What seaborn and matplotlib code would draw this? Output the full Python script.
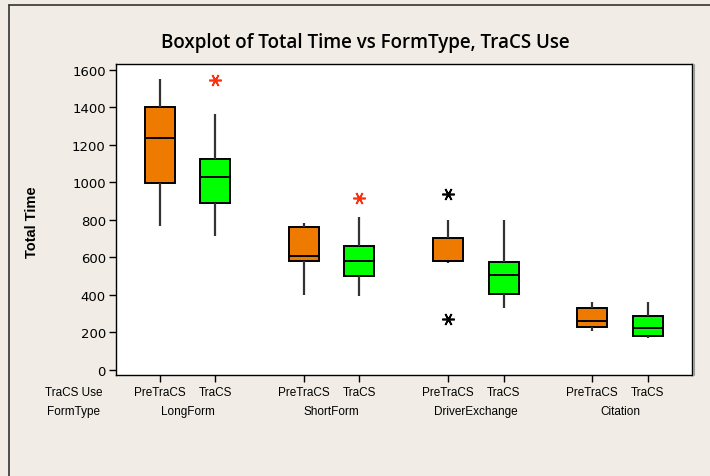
import pandas as pd
import seaborn as sns
import matplotlib.pyplot as plt
from matplotlib.lines import Line2D
from matplotlib.transforms import blended_transform_factory

forms = ["LongForm", "ShortForm", "DriverExchange", "Citation"]
uses = ["PreTraCS", "TraCS"]

long_pre = [768, 900, 998, 1100, 1236, 1320, 1399, 1480, 1548]
long_tracs = [714, 800, 892, 960, 1027, 1080, 1122, 1362, 1544]
short_pre = [399, 560, 578, 590, 605, 700, 762, 775, 785]
short_tracs = [395, 450, 498, 540, 578, 620, 663, 815, 918]
driver_pre = [271, 569, 578, 579, 580, 650, 704, 798, 939]
driver_tracs = [328, 380, 406, 460, 505, 540, 573, 690, 798]
cit_pre = [206, 215, 227, 245, 262, 300, 328, 345, 363]
cit_tracs = [168, 175, 182, 200, 222, 260, 289, 330, 363]

groups = {
    ("LongForm", "PreTraCS"): long_pre,
    ("LongForm", "TraCS"): long_tracs,
    ("ShortForm", "PreTraCS"): short_pre,
    ("ShortForm", "TraCS"): short_tracs,
    ("DriverExchange", "PreTraCS"): driver_pre,
    ("DriverExchange", "TraCS"): driver_tracs,
    ("Citation", "PreTraCS"): cit_pre,
    ("Citation", "TraCS"): cit_tracs,
}

rows = []
for (f, u), vals in groups.items():
    for v in vals:
        rows.append({"FormType": f, "TraCS Use": u, "Total Time": v})
data = pd.DataFrame(rows)

bg = "#F1EDE6"
orange = "#EE7B00"
green = "#00FF00"

sns.set_style("white")
plt.rcParams["font.family"] = ["DejaVu Sans"]
plt.rcParams["text.color"] = "black"
plt.rcParams["xtick.color"] = "black"
plt.rcParams["ytick.color"] = "black"

fig = plt.figure(figsize=(7.1, 4.77), dpi=100, facecolor=bg)
ax = fig.add_axes([0.1627, 0.2117, 0.9746 - 0.1627, 0.8644 - 0.2117])

width = 0.77
sns.boxplot(data=data, x="FormType", y="Total Time", hue="TraCS Use",
            order=forms, hue_order=uses, palette=[orange, green], saturation=1,
            width=width, gap=0.46, dodge=True, showcaps=False, whis=1.5,
            linewidth=1.4, linecolor="black", legend=False, ax=ax,
            whiskerprops={"color": "#333333", "linewidth": 1.6},
            medianprops={"color": "black", "linewidth": 1.4},
            flierprops={"marker": (6, 2, 90), "markersize": 9,
                        "markeredgewidth": 1.2, "markeredgecolor": "black"})

# minitab-like flier colours
red_boxes = [("LongForm", "TraCS"), ("ShortForm", "TraCS")]
offsets = {u: -width / 4 + i * width / 2 for i, u in enumerate(uses)}
for cont in ax.containers:
    for fl in getattr(cont, "fliers", []):
        xs = fl.get_xdata()
        if len(xs) == 0:
            continue
        for (f, u) in red_boxes:
            pos = forms.index(f) + offsets[u]
            if abs(xs[0] - pos) < 0.05:
                fl.set_markeredgecolor("#FF3010")
                fl.set_markerfacecolor("#FF3010")

ax.set_xlim(-0.5, 3.5)
ax.set_ylim(-27, 1632)
ax.set_yticks(range(0, 1601, 200))
ax.tick_params(axis="y", labelsize=9.5, length=5, width=1, left=True, pad=2,
               colors="black")

small = ["Liberation Sans Narrow", "Liberation Sans"]
ticks = []
labels = []
for i, f in enumerate(forms):
    for u in uses:
        ticks.append(i + offsets[u])
        labels.append(u)
ax.set_xticks(ticks)
ax.set_xticklabels(labels, family=small, fontsize=8.5)
ax.tick_params(axis="x", length=5, width=1, bottom=True, pad=3, colors="black")

trans = blended_transform_factory(ax.transData, fig.transFigure)
for i, f in enumerate(forms):
    ax.text(i, 1 - 412 / 477, f, transform=trans, ha="center", va="center",
            fontsize=8.5, family=small)
fig.text(74 / 710, 1 - 393 / 477, "TraCS Use", ha="center", va="center",
         fontsize=8.5, family=small)
fig.text(74 / 710, 1 - 412 / 477, "FormType", ha="center", va="center",
         fontsize=8.5, family=small)

ax.set_xlabel("")
ax.set_ylabel("")
fig.text(32 / 710, 1 - 222 / 477, "Total Time", rotation=90, ha="center",
         va="center", fontsize=10.5, fontweight="bold", family="Liberation Sans")

fig.text(365 / 710, 1 - 43 / 477, "Boxplot of Total Time vs FormType, TraCS Use",
         ha="center", va="center", fontsize=13.5, fontweight="semibold",
         family=["Open Sans", "DejaVu Sans"])

for s in ax.spines.values():
    s.set_color("black")
    s.set_linewidth(1)
ax.set_facecolor("white")

# soft shadow on the right edge of the plot frame
fig.add_artist(Line2D([694 / 710, 694 / 710], [1 - 376 / 477, 1 - 66 / 477],
                      color="#9a9a9a", lw=1.5, transform=fig.transFigure))

# outer frame lines (top and left)
fig.add_artist(Line2D([9 / 710, 1], [1 - 6 / 477, 1 - 6 / 477], color="#333333",
                      lw=1.2, transform=fig.transFigure))
fig.add_artist(Line2D([9 / 710, 9 / 710], [0, 1 - 6 / 477], color="#333333",
                      lw=1.2, transform=fig.transFigure))

fig.savefig("out.png", dpi=100, facecolor=bg)
